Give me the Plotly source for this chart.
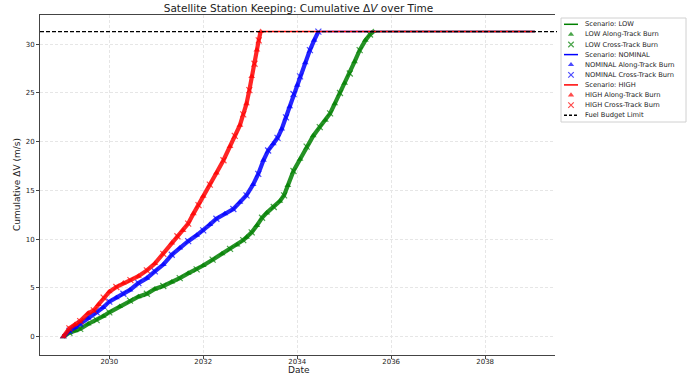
import plotly.graph_objects as go
import pandas as pd

TITLE = "Satellite Station Keeping: Cumulative Δ<i>V</i> over Time"
X_LABEL = "Date"
Y_LABEL = "Cumulative ΔV (m/s)"
BUDGET = 31.3
END_YEAR = 2039.06
X_TICKS = ["2030", "2032", "2034", "2036", "2038"]
Y_TICKS = [0, 5, 10, 15, 20, 25, 30]

LOW_YEARS = [2029.02, 2029.15, 2029.27, 2029.38, 2029.55, 2029.73, 2029.87, 2030.0, 2030.22, 2030.44,
             2030.62, 2030.8, 2030.97, 2031.15, 2031.33, 2031.5, 2031.68, 2031.86, 2032.0, 2032.2,
             2032.4, 2032.57, 2032.72, 2032.85, 2032.92, 2033.03, 2033.14, 2033.25, 2033.35, 2033.5,
             2033.63, 2033.72, 2033.8, 2033.92, 2034.06, 2034.2, 2034.34, 2034.48, 2034.6, 2034.7,
             2034.8, 2034.91, 2035.01, 2035.12, 2035.22, 2035.33, 2035.45, 2035.55, 2035.62]
LOW_DV = [0.0, 0.4, 0.6, 0.8, 1.3, 1.7, 2.1, 2.5, 3.1, 3.7,
          4.1, 4.4, 4.9, 5.2, 5.6, 6.0, 6.5, 6.9, 7.3, 7.9,
          8.5, 9.0, 9.4, 9.9, 10.2, 10.7, 11.4, 12.2, 12.7, 13.3,
          13.9, 14.5, 15.5, 17.0, 18.2, 19.5, 20.6, 21.5, 22.2, 22.9,
          23.9, 25.0, 26.0, 27.0, 28.2, 29.4, 30.4, 31.0, 31.3]

NOMINAL_YEARS = [2029.02, 2029.15, 2029.27, 2029.38, 2029.55, 2029.73, 2029.87, 2030.0, 2030.15, 2030.3,
                 2030.44, 2030.62, 2030.8, 2030.97, 2031.15, 2031.33, 2031.5, 2031.68, 2031.86, 2032.0,
                 2032.14, 2032.28, 2032.46, 2032.64, 2032.78, 2032.92, 2033.06, 2033.17, 2033.28, 2033.38,
                 2033.49, 2033.58, 2033.67, 2033.76, 2033.84, 2033.92, 2034.0, 2034.06, 2034.17, 2034.27,
                 2034.36, 2034.45]
NOMINAL_DV = [0.0, 0.6, 0.95, 1.3, 1.9, 2.5, 3.0, 3.6, 4.0, 4.4,
              4.8, 5.5, 6.0, 6.7, 7.4, 8.4, 9.1, 9.8, 10.4, 10.9,
              11.5, 12.1, 12.6, 13.1, 13.8, 14.5, 15.6, 16.7, 18.1, 19.1,
              19.8, 20.4, 21.3, 22.5, 23.6, 24.9, 25.8, 26.7, 28.1, 29.4,
              30.4, 31.3]

HIGH_YEARS = [2029.02, 2029.15, 2029.27, 2029.38, 2029.55, 2029.67, 2029.77, 2029.88, 2030.0, 2030.15,
              2030.3, 2030.45, 2030.62, 2030.8, 2030.97, 2031.15, 2031.33, 2031.45, 2031.57, 2031.68,
              2031.79, 2031.9, 2032.0, 2032.14, 2032.28, 2032.43, 2032.57, 2032.67, 2032.78, 2032.85,
              2032.92, 2032.98, 2033.03, 2033.09, 2033.14, 2033.18, 2033.22]
HIGH_DV = [0.0, 0.85, 1.25, 1.6, 2.4, 2.7, 3.3, 4.0, 4.6, 5.1,
           5.5, 5.8, 6.2, 6.8, 7.5, 8.5, 9.6, 10.3, 10.9, 11.6,
           12.6, 13.5, 14.4, 15.6, 16.8, 18.1, 19.5, 20.6, 21.7, 22.8,
           23.9, 25.3, 26.7, 28.0, 29.4, 30.4, 31.3]

SCENARIOS = ["LOW", "NOMINAL", "HIGH"]
DATA = {"LOW": (LOW_YEARS, LOW_DV), "NOMINAL": (NOMINAL_YEARS, NOMINAL_DV), "HIGH": (HIGH_YEARS, HIGH_DV)}
COLORS = {"LOW": "#008000", "NOMINAL": "#0000ff", "HIGH": "#ff0000"}
FONT = "DejaVu Sans"
W, H = 691, 380


def to_date(y):
    yr = int(y)
    s = pd.Timestamp(yr, 1, 1)
    e = pd.Timestamp(yr + 1, 1, 1)
    return s + (e - s) * (y - yr)


fig = go.Figure()
for sc in SCENARIOS:
    yrs, dv = DATA[sc]
    dates = [to_date(v) for v in yrs]
    col = COLORS[sc]
    fig.add_trace(go.Scatter(x=dates, y=dv, mode="lines",
                             line=dict(color=col, width=4.2), opacity=0.85, showlegend=False, hoverinfo="skip"))
    fig.add_trace(go.Scatter(x=[dates[-1], to_date(END_YEAR)], y=[BUDGET, BUDGET], mode="lines",
                             line=dict(color=col, width=1.6), showlegend=False, hoverinfo="skip"))
    along_x = [d for i, d in enumerate(dates) if i % 2 == 0]
    along_y = [v for i, v in enumerate(dv) if i % 2 == 0]
    cross_x = [d for i, d in enumerate(dates) if i % 2 == 1]
    cross_y = [v for i, v in enumerate(dv) if i % 2 == 1]
    fig.add_trace(go.Scatter(x=along_x, y=along_y, mode="markers", opacity=0.7,
                             marker=dict(symbol="triangle-up", size=6, color=col, line=dict(width=0)),
                             showlegend=False))
    fig.add_trace(go.Scatter(x=cross_x, y=cross_y, mode="markers", opacity=0.7,
                             marker=dict(symbol="x-thin", size=6, color=col, line=dict(width=1.2, color=col)),
                             showlegend=False))

# budget limit
fig.add_shape(type="line", xref="x domain", yref="y", x0=0, x1=1, y0=BUDGET, y1=BUDGET,
              line=dict(color="black", width=1.2, dash="4px,2px"))

# manual legend on an auxiliary pixel-scaled axis
legend_items = []
for sc in SCENARIOS:
    legend_items.append(("line", COLORS[sc], f"Scenario: {sc}"))
    legend_items.append(("tri", COLORS[sc], f"{sc} Along-Track Burn"))
    legend_items.append(("x", COLORS[sc], f"{sc} Cross-Track Burn"))
legend_items.append(("dash", "black", "Fuel Budget Limit"))

fig.add_shape(type="rect", xref="x2", yref="y2", x0=561, x1=686, y0=18, y1=122,
              line=dict(color="#d0d0d0", width=1), fillcolor="white", layer="below")
for i, (kind, col, label) in enumerate(legend_items):
    py = 24.3 + 10.1 * i
    if kind in ("line", "dash"):
        fig.add_shape(type="line", xref="x2", yref="y2", x0=564, x1=578, y0=py, y1=py,
                      line=dict(color=col, width=1.5, dash="3px,2px" if kind == "dash" else "solid"))
    else:
        sym = "triangle-up" if kind == "tri" else "x-thin"
        fig.add_trace(go.Scatter(x=[571], y=[py], xaxis="x2", yaxis="y2", mode="markers", opacity=0.7,
                                 marker=dict(symbol=sym, size=5.5, color=col,
                                             line=dict(width=1.2 if kind == "x" else 0, color=col)),
                                 showlegend=False, hoverinfo="skip"))
    fig.add_annotation(x=583, y=py, xref="x2", yref="y2", text=label, showarrow=False,
                       xanchor="left", yanchor="middle", font=dict(size=6.7, family=FONT, color="#222"))

fig.add_annotation(x=17 / W, y=1 - 185 / H, xref="paper", yref="paper", text=Y_LABEL, textangle=-90,
                   showarrow=False, xanchor="center", yanchor="middle",
                   font=dict(size=9, family=FONT, color="#222"))
fig.add_annotation(x=298.5 / W, y=1 - 370 / H, xref="paper", yref="paper", text=X_LABEL,
                   showarrow=False, xanchor="center", yanchor="middle",
                   font=dict(size=9, family=FONT, color="#222"))

axis_common = dict(showline=True, mirror=True, linecolor="#444", linewidth=1, ticks="outside",
                   ticklen=3, tickcolor="#444", showgrid=True, gridcolor="#e6e6e6", griddash="3px,2px",
                   gridwidth=0.8, zeroline=False, tickfont=dict(size=7, family=FONT, color="#222"))

fig.update_layout(
    width=W, height=H, margin=dict(l=0, r=0, t=0, b=0), plot_bgcolor="white", paper_bgcolor="white",
    showlegend=False,
    title=dict(text=TITLE, x=298.5 / W, y=1 - 8 / H, xref="paper", yref="paper", xanchor="center",
               yanchor="middle", font=dict(size=10.5, family=FONT, color="#222")),
    xaxis=dict(domain=[40 / W, 557 / W], range=[to_date(2028.525), to_date(2039.53)], type="date",
               tickvals=[to_date(float(t)) for t in X_TICKS], ticktext=X_TICKS, ticklabelstandoff=-3,
               **axis_common),
    yaxis=dict(domain=[1 - 355 / H, 1 - 15 / H], range=[-1.88, 33.0], tickvals=Y_TICKS, **axis_common),
    xaxis2=dict(domain=[555 / W, 1], range=[555, 691], visible=False, anchor="y2", fixedrange=True),
    yaxis2=dict(domain=[0, 1], range=[380, 0], visible=False, anchor="x2", fixedrange=True),
)

fig.write_html("out.html", config={"displayModeBar": False},
               post_script="document.body.style.margin='0';document.body.style.overflow='hidden';")
